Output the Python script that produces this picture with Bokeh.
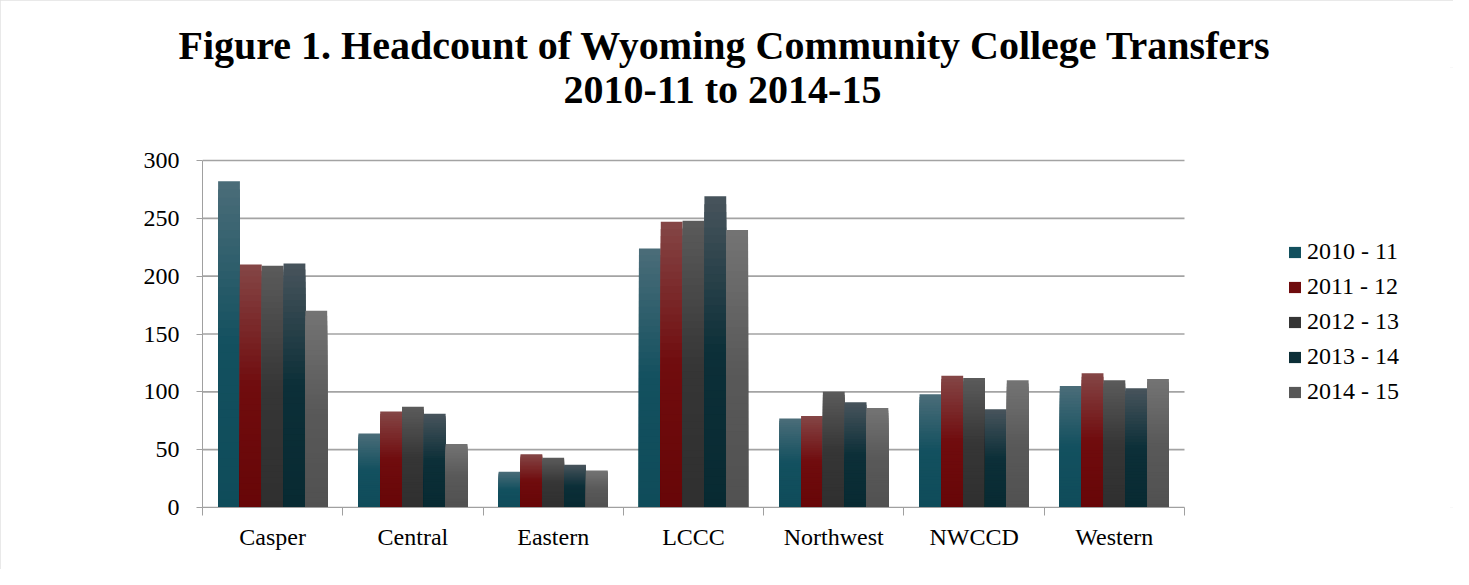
from bokeh.plotting import figure
from bokeh.models import (ColumnDataSource, Range1d, FixedTicker, Legend, LegendItem, Label, Title)
from bokeh.embed import file_html
from bokeh.resources import INLINE

# ---- data ----
categories = ["Casper", "Central", "Eastern", "LCCC", "Northwest", "NWCCD", "Western"]
series_names = ["2010 - 11", "2011 - 12", "2012 - 13", "2013 - 14", "2014 - 15"]
y2010_11 = [282, 64, 31, 224, 77, 98, 105]
y2011_12 = [210, 83, 46, 247, 79, 114, 116]
y2012_13 = [209, 87, 43, 248, 100, 112, 110]
y2013_14 = [211, 81, 37, 269, 91, 85, 103]
y2014_15 = [170, 55, 32, 240, 86, 110, 111]
y_ticks = [0, 50, 100, 150, 200, 250, 300]
title_line1 = "Figure 1. Headcount of Wyoming Community College Transfers"
title_line2 = "2010-11 to 2014-15"

series_values = [y2010_11, y2011_12, y2012_13, y2013_14, y2014_15]
# gradient stops (top, middle, bottom)
gradients = [
    ("#4b6d79", "#13505f", "#0f4c5a"),
    ("#844646", "#700c0e", "#670607"),
    ("#5b5b5b", "#363636", "#2f2f2f"),
    ("#48545c", "#0c2f38", "#082a32"),
    ("#747474", "#595959", "#515151"),
]

FONT = "Liberation Serif"
W, H = 1453, 569
# plot-area geometry (pixels)
PL, PR_AXIS, PB, PT_AXIS = 202, 1184, 507, 160
FRAME_TOP = 67
ncat = len(categories)
ymax = y_ticks[-1]
px_per_x = (PR_AXIS - PL) / ncat
px_per_y = (PB - PT_AXIS) / ymax
x_end = (W - PL) / px_per_x
y_end = (PB - FRAME_TOP) / px_per_y

def hex2rgb(h):
    h = h.lstrip("#")
    return tuple(int(h[i:i + 2], 16) for i in (0, 2, 4))

def mix(c1, c2, t):
    a, b = hex2rgb(c1), hex2rgb(c2)
    return "#%02x%02x%02x" % tuple(int(round(a[i] + (b[i] - a[i]) * t)) for i in range(3))

def grad_color(stops, f):
    top, mid, bot = stops
    if f < 0.5:
        return mix(top, mid, f / 0.5)
    return mix(mid, bot, (f - 0.5) / 0.5)

p = figure(width=W, height=H, output_backend="svg", toolbar_location=None,
           x_range=Range1d(0, x_end), y_range=Range1d(0, y_end),
           min_border_left=PL, min_border_right=0, min_border_top=FRAME_TOP,
           min_border_bottom=H - PB)
p.outline_line_color = None
p.background_fill_color = "white"
p.border_fill_color = "white"
p.styles = {"outline": "3px solid #e2e2e2", "outline-offset": "-3px"}

# horizontal gridlines at the y ticks, limited to the category span
p.xgrid.grid_line_color = None
p.ygrid.grid_line_color = None
p.segment(x0=[0] * len(y_ticks), x1=[ncat] * len(y_ticks), y0=y_ticks, y1=y_ticks,
          line_color="#a3a3a3", line_width=1.6)

K = 40
n = len(series_values)
bw = 0.1555
renderers = []
for j, vals in enumerate(series_values):
    left, right, bottom, top, color = [], [], [], [], []
    for i, v in enumerate(vals):
        cx = i + 0.5 + (j - (n - 1) / 2) * bw
        for k in range(K - 1, -1, -1):
            f = 1 - (k + 0.5) / K
            left.append(cx - bw / 2)
            right.append(cx + bw / 2)
            bottom.append(0)
            top.append(v * (k + 1) / K)
            color.append(grad_color(gradients[j], f))
    src = ColumnDataSource(dict(left=left, right=right, bottom=bottom, top=top, color=color))
    r = p.quad(left="left", right="right", bottom="bottom", top="top", source=src,
               fill_color="color", line_color=None)
    renderers.append(r)

# axes
p.yaxis.bounds = (0, ymax)
p.yaxis.ticker = FixedTicker(ticks=y_ticks)
p.yaxis.axis_line_color = "#a0a0a0"
p.yaxis.major_tick_line_color = "#a0a0a0"
p.yaxis.major_tick_out = 6
p.yaxis.major_tick_in = 0
p.yaxis.minor_tick_line_color = None
p.yaxis.major_label_standoff = 17
p.yaxis.major_label_text_font = FONT
p.yaxis.major_label_text_font_size = "24px"
p.yaxis.major_label_text_color = "black"

p.xaxis.bounds = (0, ncat)
p.xaxis.ticker = FixedTicker(ticks=[i + 0.5 for i in range(ncat)],
                             minor_ticks=list(range(ncat + 1)))
p.xaxis.major_label_overrides = {i + 0.5: c for i, c in enumerate(categories)}
p.xaxis.axis_line_color = "#a0a0a0"
p.xaxis.major_tick_line_color = None
p.xaxis.major_tick_out = 8
p.xaxis.major_tick_in = 0
p.xaxis.minor_tick_line_color = "#a0a0a0"
p.xaxis.minor_tick_out = 8
p.xaxis.minor_tick_in = 0
p.xaxis.major_label_standoff = 8
p.xaxis.major_label_text_font = FONT
p.xaxis.major_label_text_font_size = "24px"
p.xaxis.major_label_text_color = "black"

# legend (inside the extended frame, right of the bars)
items = [LegendItem(label=series_names[j], renderers=[renderers[j]], index=int(K * 0.55))
         for j in range(n)]
legend = Legend(items=items, location=(1085, 102), orientation="vertical",
                glyph_width=15, glyph_height=14, label_text_font=FONT,
                label_text_font_size="24px", label_text_color="black",
                label_standoff=5, spacing=8,
                padding=0, margin=0, border_line_color=None, background_fill_alpha=0)
p.add_layout(legend, "center")

# title line 1 (panel above the frame), line 2 (label inside the frame)
p.add_layout(Title(text=title_line1, text_font=FONT, text_font_style="bold",
                   text_font_size="40px", align="left", offset=178 - PL,
                   standoff=0, text_color="black"), "above")
p.add_layout(Label(x=722 - PL, y=PB - 89, x_units="screen", y_units="screen", text=title_line2,
                   text_font=FONT, text_font_style="bold", text_font_size="40px",
                   text_align="center", text_baseline="alphabetic", text_color="black"))

open("out.html", "w").write(file_html(p, INLINE))
